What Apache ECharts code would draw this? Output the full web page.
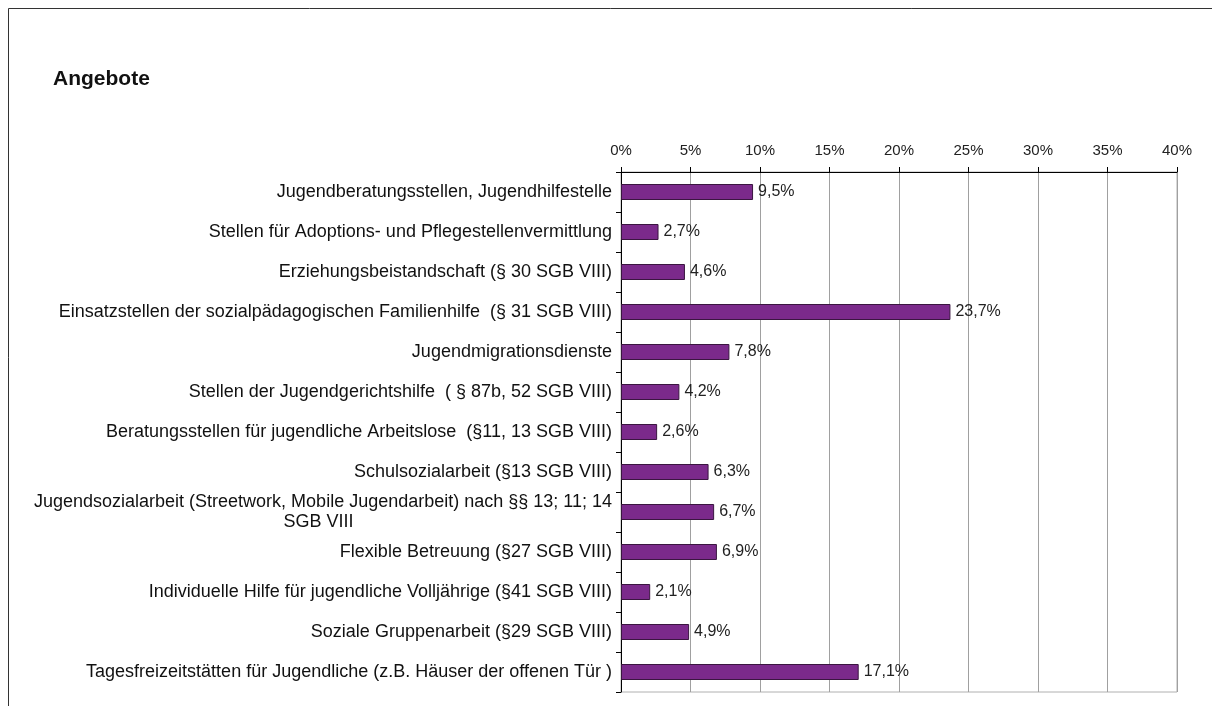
<!DOCTYPE html>
<html>
<head>
<meta charset="utf-8">
<script src="https://cdn.jsdelivr.net/npm/echarts@6/dist/echarts.min.js"></script>
<style>
  html, body { margin: 0; padding: 0; background: #fff; }
  #chart { width: 1212px; height: 706px; }
</style>
</head>
<body>
<div id="chart"></div>
<script>
// Kategorien (von oben nach unten)
const categories = [
    'Jugendberatungsstellen, Jugendhilfestelle',
    'Stellen für Adoptions- und Pflegestellenvermittlung',
    'Erziehungsbeistandschaft (§ 30 SGB VIII)',
    'Einsatzstellen der sozialpädagogischen Familienhilfe  (§ 31 SGB VIII)',
    'Jugendmigrationsdienste',
    'Stellen der Jugendgerichtshilfe  ( § 87b, 52 SGB VIII)',
    'Beratungsstellen für jugendliche Arbeitslose  (§11, 13 SGB VIII)',
    'Schulsozialarbeit (§13 SGB VIII)',
    'Jugendsozialarbeit (Streetwork, Mobile Jugendarbeit) nach §§ 13; 11; 14\nSGB VIII',
    'Flexible Betreuung (§27 SGB VIII)',
    'Individuelle Hilfe für jugendliche Volljährige (§41 SGB VIII)',
    'Soziale Gruppenarbeit (§29 SGB VIII)',
    'Tagesfreizeitstätten für Jugendliche (z.B. Häuser der offenen Tür )'
];
// Anteile in %
const values = [9.5, 2.7, 4.6, 23.7, 7.8, 4.2, 2.6, 6.3, 6.7, 6.9, 2.1, 4.9, 17.1];
const title = 'Angebote';

const chart = echarts.init(document.getElementById('chart'));
const font = 'Liberation Sans, Arial, sans-serif';

const option = {
    animation: false,
    title: {
        text: title, left: 48, top: 64,
        textStyle: { fontFamily: font, fontSize: 21, fontWeight: 'bold', color: '#111' }
    },
    graphic: [{
        type: 'rect', silent: true,
        shape: { x: 8.5, y: 8.5, width: 1400, height: 900 },
        style: { fill: 'none', stroke: '#333', lineWidth: 1 }
    }],
    grid: {
        left: 621, right: 35, top: 172, bottom: 14,
        show: true, borderColor: '#b0b0b0', borderWidth: 1
    },
    xAxis: {
        type: 'value', position: 'top', min: 0, max: 40, interval: 5,
        axisLine: { show: true, lineStyle: { color: '#000' } },
        axisTick: { show: true, length: 5, lineStyle: { color: '#000' } },
        axisLabel: { formatter: '{value}%', fontFamily: font, fontSize: 15, color: '#222', margin: 14 },
        splitLine: { show: true, lineStyle: { color: '#a0a0a0' } }
    },
    yAxis: {
        type: 'category', inverse: true, data: categories,
        axisLine: { show: true, lineStyle: { color: '#000' } },
        axisTick: { show: true, length: 5, lineStyle: { color: '#000' } },
        axisLabel: {
            fontFamily: font, fontSize: 18, color: '#111', margin: 9,
            formatter: function (v) {
                if (v.indexOf('\n') < 0) return v;
                const parts = v.split('\n');
                return '{a|' + parts[0] + '}\n{c|' + parts[1] + '}';
            },
            rich: {
                a: { fontFamily: font, fontSize: 18, color: '#111', lineHeight: 20 },
                c: { fontFamily: font, fontSize: 18, color: '#111', lineHeight: 20, width: 587, align: 'center' }
            }
        }
    },
    series: [{
        type: 'bar', data: values, barWidth: 16,
        itemStyle: { color: '#7b2a8b', borderColor: '#3a1640', borderWidth: 1 },
        label: {
            show: true, position: 'right', distance: 5,
            fontFamily: font, fontSize: 16, color: '#222',
            formatter: function (p) { return p.value.toFixed(1).replace('.', ',') + '%'; }
        }
    }]
};
chart.setOption(option);
</script>
</body>
</html>
